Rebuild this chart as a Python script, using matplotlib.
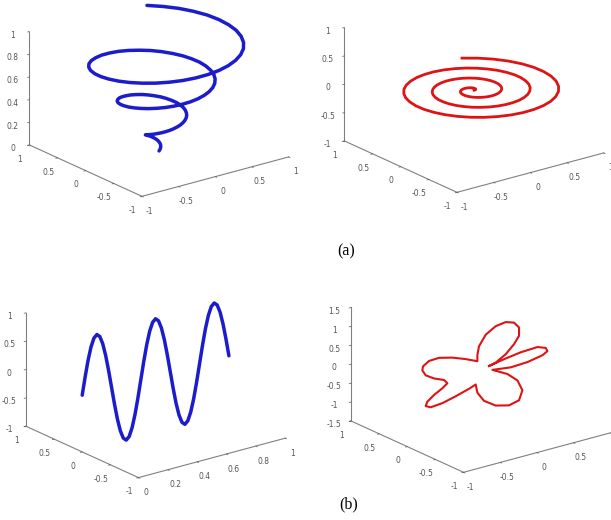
import numpy as np
import matplotlib
matplotlib.use('Agg')
import matplotlib.pyplot as plt

# (a) conical helix / flat spiral: angle (deg), radius and height per sample
helix_angle = [-20, -10, 0, 10, 20, 30, 40, 50, 60, 70, 80, 90, 100, 110, 120,
               130, 140, 150, 160, 170, 180, 190, 200, 210, 220, 230, 240, 250,
               260, 270, 280, 290, 300, 310, 320, 330, 340, 350, 360, 370, 380,
               390, 400, 410, 420, 430, 440, 450, 460, 470, 480, 490, 500, 510,
               520, 530, 540, 550, 560, 570, 580, 590, 600, 610, 620, 630, 640,
               650, 660, 670, 680, 690, 700, 710, 720, 730, 740, 750, 760, 770,
               780, 790, 800, 810, 820, 830, 840, 850, 860, 870, 880, 890, 900,
               910, 920, 930, 940, 950, 960, 970, 980, 990, 1000, 1010, 1020,
               1030, 1040, 1050, 1060, 1070, 1080, 1090, 1100, 1110, 1120, 1130,
               1140]
helix_radius = [0.000, 0.009, 0.017, 0.026, 0.034, 0.043, 0.052, 0.060, 0.069,
                0.078, 0.086, 0.095, 0.103, 0.112, 0.121, 0.129, 0.138, 0.147,
                0.155, 0.164, 0.172, 0.181, 0.190, 0.198, 0.207, 0.216, 0.224,
                0.233, 0.241, 0.250, 0.259, 0.267, 0.276, 0.284, 0.293, 0.302,
                0.310, 0.319, 0.328, 0.336, 0.345, 0.353, 0.362, 0.371, 0.379,
                0.388, 0.397, 0.405, 0.414, 0.422, 0.431, 0.440, 0.448, 0.457,
                0.466, 0.474, 0.483, 0.491, 0.500, 0.509, 0.517, 0.526, 0.534,
                0.543, 0.552, 0.560, 0.569, 0.578, 0.586, 0.595, 0.603, 0.612,
                0.621, 0.629, 0.638, 0.647, 0.655, 0.664, 0.672, 0.681, 0.690,
                0.698, 0.707, 0.716, 0.724, 0.733, 0.741, 0.750, 0.759, 0.767,
                0.776, 0.784, 0.793, 0.802, 0.810, 0.819, 0.828, 0.836, 0.845,
                0.853, 0.862, 0.871, 0.879, 0.888, 0.897, 0.905, 0.914, 0.922,
                0.931, 0.940, 0.948, 0.957, 0.966, 0.974, 0.983, 0.991, 1.000]
helix_height = helix_radius

# (b) sine wave in the y=0 plane
wave_x = [0.00, 0.02, 0.04, 0.06, 0.08, 0.10, 0.12, 0.14, 0.16, 0.18, 0.20,
          0.22, 0.24, 0.26, 0.28, 0.30, 0.32, 0.34, 0.36, 0.38, 0.40, 0.42,
          0.44, 0.46, 0.48, 0.50, 0.52, 0.54, 0.56, 0.58, 0.60, 0.62, 0.64,
          0.66, 0.68, 0.70, 0.72, 0.74, 0.76, 0.78, 0.80, 0.82, 0.84, 0.86,
          0.88, 0.90, 0.92, 0.94, 0.96, 0.98, 1.00]
wave_z = [0, 0.309, 0.588, 0.809, 0.951, 1, 0.951, 0.809, 0.588, 0.309,
          0, -0.309, -0.588, -0.809, -0.951, -1, -0.951, -0.809, -0.588, -0.309,
          0, 0.309, 0.588, 0.809, 0.951, 1, 0.951, 0.809, 0.588, 0.309,
          0, -0.309, -0.588, -0.809, -0.951, -1, -0.951, -0.809, -0.588, -0.309,
          0, 0.309, 0.588, 0.809, 0.951, 1, 0.951, 0.809, 0.588, 0.309, 0]

# (b) petal curve in the y=0 plane
rose_x = [0.115, 0.206, 0.342, 0.456, 0.524, 0.524, 0.456, 0.342, 0.206, 0.070,
          -0.022, -0.044, -0.044, -0.203, -0.385, -0.568, -0.704, -0.786, -0.794,
          -0.749, -0.636, -0.499, -0.453, -0.521, -0.636, -0.726, -0.749, -0.681,
          -0.521, -0.340, -0.158, -0.067, -0.044, 0.046, 0.206, 0.387, 0.524,
          0.570, 0.502, 0.366, 0.161, 0.411, 0.638, 0.843, 0.911, 0.888, 0.775,
          0.547, 0.319, 0.115]
rose_z = [0.051, 0.093, 0.244, 0.451, 0.638, 0.856, 1.020, 1.094, 1.056, 0.903,
          0.643, 0.426, 0.260, 0.399, 0.533, 0.622, 0.610, 0.509, 0.408, 0.255,
          0.113, 0.001, -0.108, -0.206, -0.326, -0.455, -0.559, -0.627, -0.600,
          -0.513, -0.410, -0.343, -0.572, -0.834, -1.043, -1.132, -1.068, -0.828,
          -0.533, -0.292, -0.076, -0.139, -0.119, -0.044, 0.028, 0.126, 0.208,
          0.188, 0.124, 0.051]

ticks_pm1 = [-1, -0.5, 0, 0.5, 1]
ticks_01 = [0, 0.2, 0.4, 0.6, 0.8, 1]
ticks_z4 = [-1.5, -1, -0.5, 0, 0.5, 1, 1.5]

BLUE = '#1c1ccc'
RED = '#de1414'


def style_axes(ax, xt, yt, zt):
    ax.set_proj_type('ortho')
    ax.view_init(elev=20.5, azim=-127.5)
    ax.set_xlim(xt[0], xt[-1])
    ax.set_ylim(yt[0], yt[-1])
    ax.set_zlim(zt[0], zt[-1])
    ax.set_xticks(xt)
    ax.set_yticks(yt)
    ax.set_zticks(zt)
    ax.set_xticklabels(['%g' % v for v in xt])
    ax.set_yticklabels(['%g' % v for v in yt])
    ax.set_zticklabels(['%g' % v for v in zt])
    ax.grid(False)
    for axis in (ax.xaxis, ax.yaxis, ax.zaxis):
        axis.set_pane_color((1, 1, 1, 0))
        axis.line.set_color('#808080')
        axis.line.set_linewidth(0.8)
        axis._axinfo['tick']['inward_factor'] = 0.15
        axis._axinfo['tick']['outward_factor'] = 0.0
        axis._axinfo['tick']['linewidth'] = {True: 0.5, False: 0.5}
    ax.tick_params(labelsize=5.5, colors='#555555', pad=-3)
    ax.set_box_aspect((1, 1, 0.655), zoom=1.345)


fig = plt.figure(figsize=(6.11, 5.20), dpi=100)

th = np.deg2rad(helix_angle)
rr = np.array(helix_radius)

ax1 = fig.add_axes([0.0057, 0.6134, 0.5, 0.4], projection='3d')
ax1.plot(rr * np.cos(th), rr * np.sin(th), helix_height, color=BLUE, lw=2.5,
         solid_joinstyle='round', solid_capstyle='round')
style_axes(ax1, ticks_pm1, ticks_pm1, ticks_01)

ax2 = fig.add_axes([0.5213, 0.6211, 0.5, 0.4], projection='3d')
ax2.plot(rr * np.cos(th), rr * np.sin(th), np.zeros_like(rr), color=RED, lw=2.0,
         solid_joinstyle='round')
style_axes(ax2, ticks_pm1, ticks_pm1, ticks_pm1)

ax3 = fig.add_axes([0.0, 0.0725, 0.5, 0.4], projection='3d')
ax3.plot(wave_x, np.zeros(len(wave_x)), wave_z, color=BLUE, lw=2.5,
         solid_joinstyle='round', solid_capstyle='round')
style_axes(ax3, ticks_01, ticks_pm1, ticks_pm1)

ax4 = fig.add_axes([0.532, 0.0827, 0.5, 0.4], projection='3d')
ax4.plot(rose_x, np.zeros(len(rose_x)), rose_z, color=RED, lw=1.5,
         solid_joinstyle='round')
style_axes(ax4, ticks_pm1, ticks_pm1, ticks_z4)

fig.text(346 / 611, 1 - 251 / 520, '(a)', family='Liberation Serif', fontsize=11.5,
         ha='center', va='center')
fig.text(349 / 611, 1 - 504 / 520, '(b)', family='Liberation Serif', fontsize=11.5,
         ha='center', va='center')

fig.savefig('out.png', dpi=100)
